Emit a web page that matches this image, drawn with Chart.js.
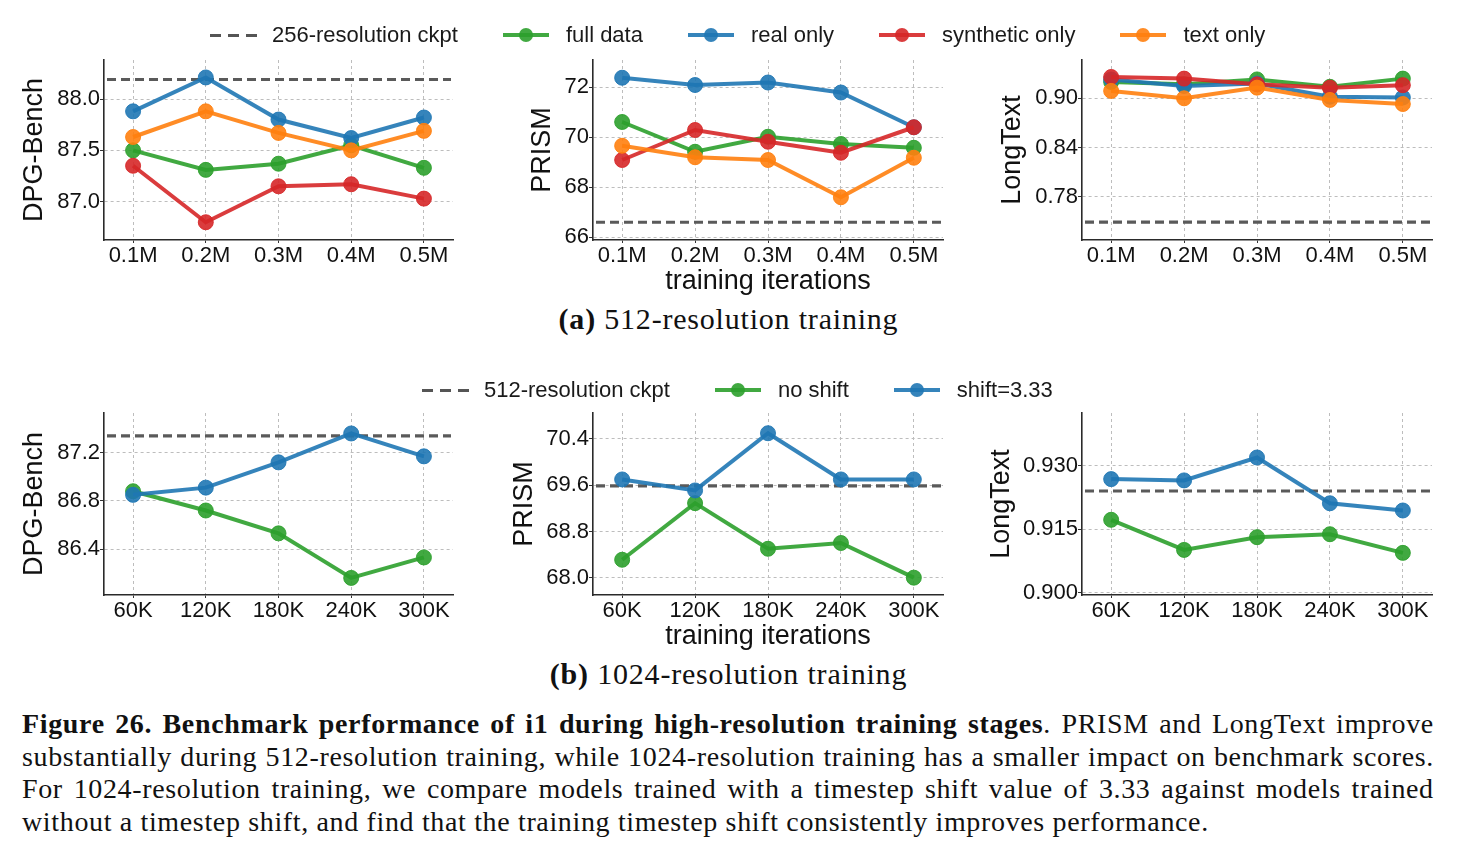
<!DOCTYPE html>
<html><head><meta charset="utf-8">
<script src="https://cdn.jsdelivr.net/npm/chart.js@4.4.0/dist/chart.umd.min.js"></script>
<style>
body{margin:0;background:#fff;width:1457px;height:853px;overflow:hidden;position:relative;font-family:"Liberation Sans",Arial,sans-serif;color:#111;}
canvas{position:absolute;}
.legend{position:absolute;display:flex;align-items:center;height:30px;font-size:22px;white-space:nowrap;color:#1a1a1a;}
.item{display:flex;align-items:center;margin-right:45px;}
.icon{position:relative;width:46px;height:14px;margin-right:17px;}
.icon .ln{position:absolute;left:0;right:0;top:5px;height:4px;}
.icon .dot{position:absolute;left:16px;top:0;width:14px;height:14px;border-radius:50%;}
.icon.dash{width:48px;margin-right:14px;}
.icon.dash .ln{top:5.5px;height:3px;background:repeating-linear-gradient(90deg,#555 0 11px,transparent 11px 18px);}
.sub{position:absolute;left:0;width:1457px;text-align:center;font-family:"Liberation Serif","Times New Roman",serif;font-size:30px;letter-spacing:0.8px;color:#111;}
.cap{position:absolute;left:22px;width:1412px;display:flex;justify-content:space-between;font-family:"Liberation Serif","Times New Roman",serif;font-size:28px;letter-spacing:0.65px;color:#111;white-space:nowrap;}
.cap.last{justify-content:flex-start;}
</style>
</head><body>
<script>
// ---------- data ----------
const iters512 = ['0.1M', '0.2M', '0.3M', '0.4M', '0.5M'];
const iters1024 = ['60K', '120K', '180K', '240K', '300K'];

// (a) 512-resolution training
const dpg512Full  = [87.50, 87.31, 87.37, 87.55, 87.33];
const dpg512Real  = [87.88, 88.21, 87.80, 87.62, 87.82];
const dpg512Synth = [87.35, 86.80, 87.15, 87.17, 87.03];
const dpg512Text  = [87.63, 87.88, 87.67, 87.50, 87.69];
const dpg512Ref = 88.19;

const prism512Full  = [70.61, 69.42, 70.02, 69.73, 69.58];
const prism512Real  = [72.38, 72.09, 72.19, 71.79, 70.40];
const prism512Synth = [69.09, 70.29, 69.82, 69.38, 70.40];
const prism512Text  = [69.66, 69.20, 69.09, 67.60, 69.18];
const prism512Ref = 66.6;

const long512Full  = [0.920, 0.917, 0.923, 0.914, 0.924];
const long512Real  = [0.923, 0.915, 0.918, 0.902, 0.901];
const long512Synth = [0.926, 0.924, 0.917, 0.913, 0.916];
const long512Text  = [0.909, 0.900, 0.913, 0.898, 0.893];
const long512Ref = 0.749;

// (b) 1024-resolution training
const dpg1024NoShift = [86.88, 86.72, 86.53, 86.16, 86.33];
const dpg1024Shift   = [86.85, 86.91, 87.12, 87.36, 87.17];
const dpg1024Ref = 87.34;

const prism1024NoShift = [68.31, 69.29, 68.50, 68.60, 68.00];
const prism1024Shift   = [69.70, 69.51, 70.50, 69.70, 69.70];
const prism1024Ref = 69.59;

const long1024NoShift = [0.9172, 0.9101, 0.9131, 0.9138, 0.9094];
const long1024Shift   = [0.9268, 0.9265, 0.9319, 0.9211, 0.9194];
const long1024Ref = 0.924;

// tick labels
const yTicksDpg512 = [87.0, 87.5, 88.0];
const yTicksPrism512 = [66, 68, 70, 72];
const yTicksLong512 = [0.78, 0.84, 0.90];
const yTicksDpg1024 = [86.4, 86.8, 87.2];
const yTicksPrism1024 = [68.0, 68.8, 69.6, 70.4];
const yTicksLong1024 = [0.900, 0.915, 0.930];

const legend512 = ['256-resolution ckpt', 'full data', 'real only', 'synthetic only', 'text only'];
const legend1024 = ['512-resolution ckpt', 'no shift', 'shift=3.33'];

// ---------- styles ----------
const GREEN = 'rgba(44,160,44,0.9)', BLUE = 'rgba(31,119,180,0.9)', RED = 'rgba(214,39,40,0.9)', ORANGE = 'rgba(255,127,14,0.9)';
const FONT = '"Liberation Sans", Arial, sans-serif';

const refLinePlugin = {
  id: 'refLine',
  beforeDatasetsDraw(chart, args, opts) {
    const y = chart.scales.y.getPixelForValue(opts.value);
    const ctx = chart.ctx, a = chart.chartArea;
    ctx.save();
    ctx.setLineDash([9, 5]);
    ctx.strokeStyle = '#5a5a5a';
    ctx.lineWidth = 3.2;
    ctx.beginPath(); ctx.moveTo(a.left + 3, y); ctx.lineTo(a.right - 2, y); ctx.stroke();
    ctx.restore();
  }
};

const panels = [
  {px:104, py:60, pw:349, ph:180, labels:iters512, ref:dpg512Ref, yMin:86.627, yMax:88.38, yTicks:yTicksDpg512, dec:1, title:'DPG-Bench', titleX:35, xTitle:false,
   series:[[dpg512Full,GREEN],[dpg512Real,BLUE],[dpg512Synth,RED],[dpg512Text,ORANGE]]},
  {px:593, py:60, pw:350, ph:180, labels:iters512, ref:prism512Ref, yMin:65.89, yMax:73.09, yTicks:yTicksPrism512, dec:0, title:'PRISM', titleX:543, xTitle:true,
   series:[[prism512Full,GREEN],[prism512Real,BLUE],[prism512Synth,RED],[prism512Text,ORANGE]]},
  {px:1082, py:60, pw:350, ph:180, labels:iters512, ref:long512Ref, yMin:0.7272, yMax:0.9467, yTicks:yTicksLong512, dec:2, title:'LongText', titleX:1013, xTitle:false,
   series:[[long512Full,GREEN],[long512Real,BLUE],[long512Synth,RED],[long512Text,ORANGE]]},
  {px:104, py:413, pw:349, ph:182, labels:iters1024, ref:dpg1024Ref, yMin:86.018, yMax:87.53, yTicks:yTicksDpg1024, dec:1, title:'DPG-Bench', titleX:35, xTitle:false,
   series:[[dpg1024NoShift,GREEN],[dpg1024Shift,BLUE]]},
  {px:593, py:413, pw:350, ph:182, labels:iters1024, ref:prism1024Ref, yMin:67.70, yMax:70.85, yTicks:yTicksPrism1024, dec:1, title:'PRISM', titleX:525, xTitle:true,
   series:[[prism1024NoShift,GREEN],[prism1024Shift,BLUE]]},
  {px:1082, py:413, pw:350, ph:182, labels:iters1024, ref:long1024Ref, yMin:0.89946, yMax:0.9424, yTicks:yTicksLong1024, dec:3, title:'LongText', titleX:1002, xTitle:false,
   series:[[long1024NoShift,GREEN],[long1024Shift,BLUE]]}
];

function makeChart(p) {
  const Yw = 100, padTop = 20, padRight = 30, Xh = 60;
  const cv = document.createElement('canvas');
  const W = Yw + p.pw + padRight, H = padTop + p.ph + Xh;
  cv.width = W; cv.height = H;
  cv.style.width = W + 'px'; cv.style.height = H + 'px';
  cv.style.left = (p.px - Yw) + 'px'; cv.style.top = (p.py - padTop) + 'px';
  document.body.appendChild(cv);
  const n = p.series.length;
  const datasets = p.series.map(([vals, color], i) => ({
    data: vals.map((v, j) => ({x: j, y: v})),
    borderColor: color, backgroundColor: color,
    pointBackgroundColor: color, pointBorderColor: color,
    borderWidth: 4, pointRadius: 7.5, pointHoverRadius: 7.5, pointBorderWidth: 1,
    order: n - i, clip: false, tension: 0
  }));
  const tickFont = {size: 22, family: FONT};
  const titleFont = {size: 27, family: FONT};
  new Chart(cv, {
    type: 'line',
    data: {datasets},
    options: {
      responsive: false, animation: false, devicePixelRatio: 1, events: [],
      layout: {padding: {top: padTop, right: padRight, left: 0, bottom: 0}},
      plugins: {legend: {display: false}, tooltip: {enabled: false}, refLine: {value: p.ref}},
      scales: {
        x: {
          type: 'linear', min: -0.4, max: 4.4, bounds: 'data',
          afterBuildTicks: s => { s.ticks = p.labels.map((_, i) => ({value: i})); },
          afterFit: s => { s.height = Xh; },
          ticks: {callback: v => p.labels[v] ?? '', font: tickFont, color: '#111', padding: 0, maxRotation: 0, autoSkip: false},
          grid: {color: '#bdbdbd', lineWidth: 1, tickLength: 3, tickColor: '#333', tickWidth: 1, tickBorderDash: []},
          border: {display: true, color: '#2a2a2a', width: 1.6, dash: [3, 3]},
          title: {display: p.xTitle, text: 'training iterations', font: titleFont, color: '#111', padding: {top: 0, bottom: 2}}
        },
        y: {
          type: 'linear', min: p.yMin, max: p.yMax, bounds: 'data',
          afterBuildTicks: s => { s.ticks = p.yTicks.map(v => ({value: v})); },
          afterFit: s => { s.width = Yw; },
          ticks: {callback: v => Number(v).toFixed(p.dec), font: tickFont, color: '#111', padding: 0},
          grid: {color: '#bdbdbd', lineWidth: 1, tickLength: 4, tickColor: '#333', tickWidth: 1, tickBorderDash: []},
          border: {display: true, color: '#2a2a2a', width: 1.6, dash: [3, 3]},
          title: {display: true, text: p.title, font: titleFont, color: '#111', padding: {top: p.titleX - (p.px - Yw) - 16.2, bottom: 0}}
        }
      }
    },
    plugins: [refLinePlugin]
  });
}
panels.forEach(makeChart);

// ---------- legends ----------
function makeLegend(names, colors, left, cy) {
  const box = document.createElement('div');
  box.className = 'legend';
  box.style.left = left + 'px'; box.style.top = (cy - 15) + 'px';
  names.forEach((name, i) => {
    const it = document.createElement('div'); it.className = 'item';
    const ic = document.createElement('div');
    if (i === 0) { ic.className = 'icon dash'; ic.innerHTML = '<div class="ln"></div>'; }
    else { ic.className = 'icon'; ic.innerHTML = `<div class="ln" style="background:${colors[i]}"></div><div class="dot" style="background:${colors[i]}"></div>`; }
    const tx = document.createElement('span'); tx.textContent = name;
    it.appendChild(ic); it.appendChild(tx); box.appendChild(it);
  });
  document.body.appendChild(box);
}
makeLegend(legend512, [null, GREEN, BLUE, RED, ORANGE], 210, 35);
makeLegend(legend1024, [null, GREEN, BLUE], 422, 390);
</script>

<div class="sub" style="top:302px;"><b>(a)</b> 512-resolution training</div>
<div class="sub" style="top:657px;"><b>(b)</b> 1024-resolution training</div>

<div class="cap" style="top:708px;"><b>Figure</b><b>26.</b><b>Benchmark</b><b>performance</b><b>of</b><b>i1</b><b>during</b><b>high-resolution</b><b>training</b><span><b>stages</b>.</span><span>PRISM</span><span>and</span><span>LongText</span><span>improve</span></div>
<div class="cap" style="top:741px;"><span>substantially</span><span>during</span><span>512-resolution</span><span>training,</span><span>while</span><span>1024-resolution</span><span>training</span><span>has</span><span>a</span><span>smaller</span><span>impact</span><span>on</span><span>benchmark</span><span>scores.</span></div>
<div class="cap" style="top:773px;"><span>For</span><span>1024-resolution</span><span>training,</span><span>we</span><span>compare</span><span>models</span><span>trained</span><span>with</span><span>a</span><span>timestep</span><span>shift</span><span>value</span><span>of</span><span>3.33</span><span>against</span><span>models</span><span>trained</span></div>
<div class="cap last" style="top:806px;"><span>without a timestep shift, and find that the training timestep shift consistently improves performance.</span></div>
</body></html>
